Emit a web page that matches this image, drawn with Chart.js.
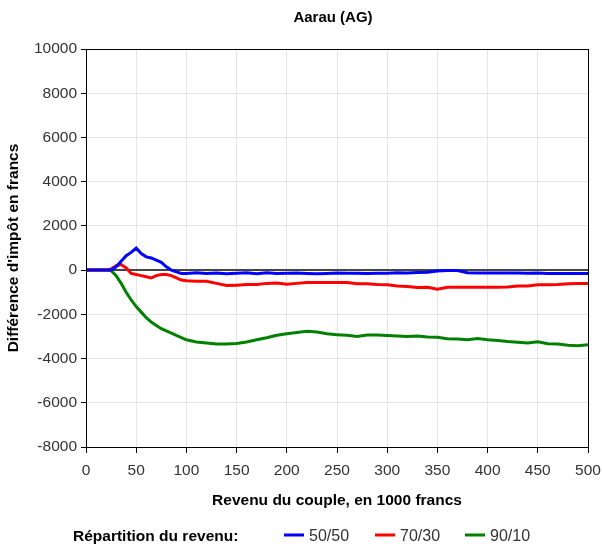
<!DOCTYPE html>
<html>
<head>
<meta charset="utf-8">
<script src="https://cdn.jsdelivr.net/npm/chart.js@4/dist/chart.umd.min.js"></script>
<style>
  body { margin: 0; background: #fff; }
  #wrap { width: 602px; height: 550px; }
</style>
</head>
<body>
<div id="wrap"><canvas id="myChart" width="602" height="550"></canvas></div>
<script>
// revenu du couple (milliers de francs)
const revenu = [0, 10, 20, 25, 30, 35, 40, 45, 50, 55, 60, 65, 70, 75, 80, 85, 90, 95, 100,
    110, 120, 130, 140, 150, 160, 170, 180, 190, 200, 210, 220, 230, 240, 250, 260, 270, 280, 290, 300,
    310, 320, 330, 340, 350, 360, 370, 380, 390, 400, 410, 420, 430, 440, 450, 460, 470, 480, 490, 500];

const rep5050 = [0, 0, 0, 0, 150, 400, 650, 800, 1000, 750, 600, 550, 450, 350, 150, 0, -80, -150, -150,
    -120, -150, -130, -160, -140, -120, -160, -120, -150, -140, -130, -150, -160, -150, -130, -140, -140, -150, -140, -140,
    -120, -130, -110, -100, -40, -20, -20, -120, -130, -130, -130, -130, -130, -140, -130, -150, -150, -150, -150, -150];

const rep7030 = [0, 0, 0, 50, 200, 250, 100, -150, -200, -250, -300, -350, -250, -200, -200, -250, -350, -450, -480,
    -500, -500, -600, -700, -680, -650, -650, -600, -580, -640, -600, -560, -560, -560, -560, -560, -620, -620, -650, -660,
    -720, -740, -790, -780, -860, -780, -780, -780, -780, -780, -780, -760, -720, -720, -660, -660, -650, -620, -600, -600];

const rep9010 = [0, 0, 0, -30, -250, -600, -1000, -1350, -1650, -1900, -2150, -2350, -2500, -2650, -2750, -2850, -2950, -3050, -3150,
    -3250, -3300, -3340, -3340, -3320, -3250, -3150, -3060, -2950, -2880, -2820, -2770, -2800, -2880, -2920, -2950, -3000, -2940, -2940, -2960,
    -2980, -3000, -2980, -3030, -3040, -3100, -3120, -3150, -3090, -3150, -3180, -3230, -3260, -3300, -3240, -3330, -3340, -3400, -3420, -3380];

const seriesNames = ['50/50', '70/30', '90/10'];
const seriesColors = ['#0000ff', '#ff0000', '#008000'];

const FONT = '"Liberation Sans", Arial, sans-serif';

function toPoints(values) {
    return values.map((v, i) => ({ x: revenu[i], y: v }));
}

// titre, cadre, ligne du zéro et légende dessinés à la main
const extras = {
    id: 'extras',
    beforeDatasetsDraw(chart) {
        const { ctx, chartArea: a } = chart;
        const y0 = chart.scales.y.getPixelForValue(0);
        ctx.save();
        ctx.strokeStyle = '#444';
        ctx.lineWidth = 2;
        ctx.beginPath();
        ctx.moveTo(a.left, y0);
        ctx.lineTo(a.right, y0);
        ctx.stroke();
        ctx.restore();
    },
    afterDraw(chart) {
        const { ctx, chartArea: a } = chart;
        ctx.save();
        ctx.strokeStyle = '#000';
        ctx.lineWidth = 1;
        ctx.strokeRect(a.left + 0.5, a.top + 0.5, a.right - a.left, a.bottom - a.top);

        ctx.fillStyle = '#000';
        ctx.textBaseline = 'middle';
        ctx.textAlign = 'center';
        ctx.font = 'bold 15px ' + FONT;
        ctx.fillText('Aarau (AG)', 333, 18);

        const ly = 537;
        ctx.textAlign = 'left';
        ctx.font = 'bold 15.5px ' + FONT;
        ctx.fillText('Répartition du revenu:', 73, ly);
        const xs = [284, 375, 465];
        ctx.font = '16px ' + FONT;
        chart.data.datasets.forEach((ds, i) => {
            ctx.strokeStyle = ds.borderColor;
            ctx.lineWidth = 3;
            ctx.beginPath();
            ctx.moveTo(xs[i], ly - 2);
            ctx.lineTo(xs[i] + 20, ly - 2);
            ctx.stroke();
            ctx.fillStyle = '#333';
            ctx.fillText(ds.label, xs[i] + 25, ly);
        });
        ctx.restore();
    }
};

const ctx = document.querySelector('#myChart').getContext('2d');
const myChart = new Chart(ctx, {
    type: 'line',
    data: {
        datasets: seriesNames.map((name, i) => ({
            label: name,
            data: toPoints([rep5050, rep7030, rep9010][i]),
            borderColor: seriesColors[i],
            backgroundColor: seriesColors[i],
            borderWidth: 3,
            pointRadius: 0,
            tension: 0
        }))
    },
    options: {
        responsive: false,
        animation: false,
        layout: { padding: { top: 49, right: 14, bottom: 36, left: 0 } },
        plugins: {
            legend: { display: false },
            title: { display: false },
            tooltip: { enabled: false }
        },
        scales: {
            x: {
                type: 'linear',
                min: 0,
                max: 500,
                afterFit: (s) => { s.height = 67; s.paddingRight = 0; s.paddingLeft = 0; },
                ticks: { stepSize: 50, color: '#333', padding: 8, font: { family: FONT, size: 15.5 },
                    callback: (v) => String(v) },
                grid: { color: '#e4e4e4', tickColor: '#000', tickLength: 6 },
                border: { color: '#000' },
                title: {
                    display: true,
                    text: 'Revenu du couple, en 1000 francs',
                    color: '#000',
                    font: { family: FONT, size: 15.5, weight: 'bold' },
                    padding: { top: 18 }
                }
            },
            y: {
                min: -8000,
                max: 10000,
                afterFit: (s) => { s.width = 86; },
                ticks: { stepSize: 2000, color: '#333', padding: 4, font: { family: FONT, size: 15.5 },
                    callback: (v) => String(v) },
                grid: { color: '#e4e4e4', tickColor: '#000', tickLength: 5 },
                border: { color: '#000' },
                title: {
                    display: true,
                    text: "Différence d'impôt en francs",
                    color: '#000',
                    font: { family: FONT, size: 15.5, weight: 'bold' },
                    padding: { bottom: 2 }
                }
            }
        }
    },
    plugins: [extras]
});
</script>
</body>
</html>
